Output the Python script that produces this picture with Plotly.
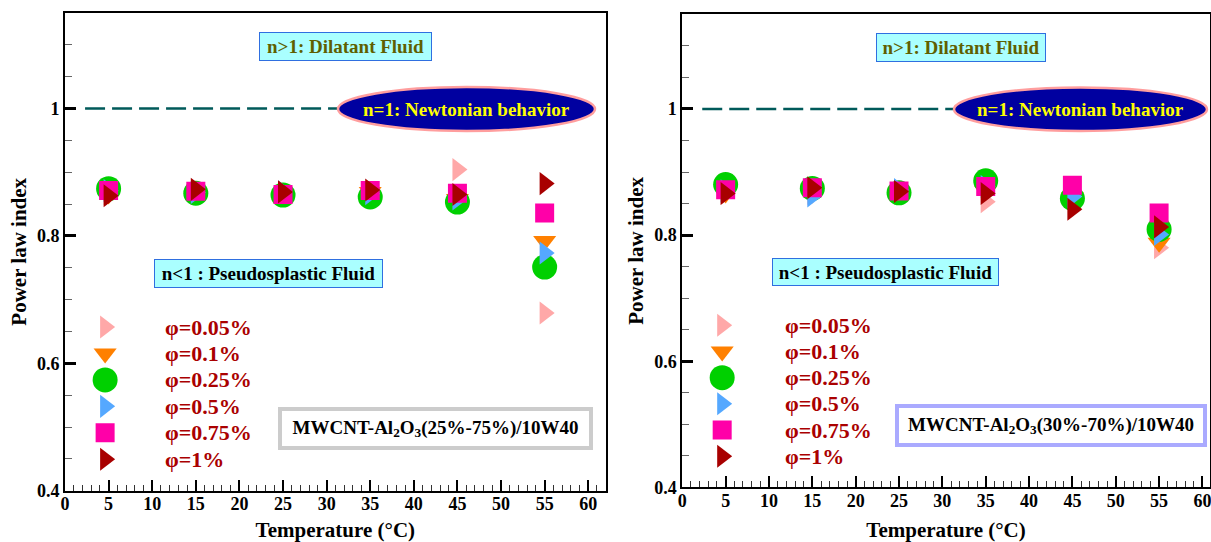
import plotly.graph_objects as go

W, H = 1211, 542

# ---------------- data ----------------
temperature = [5, 15, 25, 35, 45, 55]
series_labels = ["φ=0.05%", "φ=0.1%", "φ=0.25%", "φ=0.5%", "φ=0.75%", "φ=1%"]

# MWCNT-Al2O3 (25%-75%)/10W40
n_25_75 = {
    "φ=0.05%": [0.866, 0.866, 0.865, 0.869, 0.904, 0.679],
    "φ=0.1%":  [0.865, 0.867, 0.865, 0.869, 0.858, 0.792],
    "φ=0.25%": [0.874, 0.867, 0.864, 0.861, 0.853, 0.751],
    "φ=0.5%":  [0.871, 0.868, 0.869, 0.866, 0.858, 0.773],
    "φ=0.75%": [0.871, 0.870, 0.865, 0.871, 0.867, 0.836],
    "φ=1%":    [0.863, 0.873, 0.869, 0.872, 0.865, 0.882],
}
# MWCNT-Al2O3 (30%-70%)/10W40
n_30_70 = {
    "φ=0.05%": [0.866, 0.866, 0.866, 0.853, 0.860, 0.780],
    "φ=0.1%":  [0.866, 0.866, 0.867, 0.870, 0.860, 0.788],
    "φ=0.25%": [0.880, 0.874, 0.867, 0.886, 0.858, 0.809],
    "φ=0.5%":  [0.870, 0.862, 0.872, 0.877, 0.861, 0.801],
    "φ=0.75%": [0.872, 0.875, 0.870, 0.877, 0.879, 0.835],
    "φ=1%":    [0.866, 0.875, 0.869, 0.866, 0.841, 0.813],
}
newtonian_x = [2.3, 32]
newtonian_y = [1.0, 1.0]

x_ticks = [0, 5, 10, 15, 20, 25, 30, 35, 40, 45, 50, 55, 60]
y_ticks = [0.4, 0.6, 0.8, 1.0]
y_ticktext = ["0.4", "0.6", "0.8", "1"]

# ---------------- styles ----------------
styles = {
    "φ=0.05%": dict(symbol="triangle-right", color="#FFA8A8", size=20),
    "φ=0.1%":  dict(symbol="triangle-down", color="#FF8000", size=20),
    "φ=0.25%": dict(symbol="circle", color="#00D000", size=25),
    "φ=0.5%":  dict(symbol="triangle-right", color="#55A8FF", size=20),
    "φ=0.75%": dict(symbol="square", color="#FF00A8", size=19),
    "φ=1%":    dict(symbol="triangle-right", color="#A80000", size=20),
}
FONT = "Liberation Serif, Times New Roman, serif"
LEG_COLOR = "#AA0000"

def px(x):
    return x / W

def py(y):
    return 1 - y / H

fig = go.Figure()

panels = [
    dict(data=n_25_75, xa="x", ya="y", frame=(65, 12.8, 605.7, 490.8), xr=[0, 62],
         title="MWCNT-Al<sub>2</sub>O<sub>3</sub>(25%-75%)/10W40", border="#CCCCCC",
         dil=(259, 32, 432, 61), ell=(338, 87, 595, 131), pse=(154, 259, 383, 288),
         mw=(278, 407, 593, 450), leg_x=4.6, leg_tx=11.2),
    dict(data=n_30_70, xa="x2", ya="y2", frame=(682.3, 14.3, 1209.8, 487.4), xr=[0, 60.85],
         title="MWCNT-Al<sub>2</sub>O<sub>3</sub>(30%-70%)/10W40", border="#AAAAFF",
         dil=(876, 33, 1046, 62), ell=(954, 87.5, 1207, 131), pse=(772, 258, 999, 286),
         mw=(895, 404, 1207, 447), leg_x=4.6, leg_tx=11.6),
]

leg_y0, leg_step = 0.657, 0.0415
shapes, annotations = [], []

for i, p in enumerate(panels):
    # reference line n=1
    fig.add_trace(go.Scatter(x=newtonian_x, y=newtonian_y, mode="lines", xaxis=p["xa"], yaxis=p["ya"],
                             line=dict(color="#005A5A", width=2.5, dash="20px,7px"),
                             showlegend=False, hoverinfo="skip"))
    for k, lab in enumerate(series_labels):
        st = styles[lab]
        fig.add_trace(go.Scatter(x=temperature, y=p["data"][lab], mode="markers", name=lab,
                                 xaxis=p["xa"], yaxis=p["ya"], showlegend=False,
                                 marker=dict(symbol=st["symbol"], color=st["color"], size=st["size"],
                                             line=dict(width=0))))
    # key (legend) drawn inside the plot
    for k, lab in enumerate(series_labels):
        st = styles[lab]
        yk = leg_y0 - k * leg_step
        fig.add_trace(go.Scatter(x=[p["leg_x"]], y=[yk], mode="markers", xaxis=p["xa"], yaxis=p["ya"],
                                 showlegend=False, hoverinfo="skip",
                                 marker=dict(symbol=st["symbol"], color=st["color"], size=st["size"],
                                             line=dict(width=0))))
        annotations.append(dict(x=p["leg_tx"], y=yk, xref=p["xa"], yref=p["ya"], text="<b>" + lab + "</b>",
                                showarrow=False, xanchor="left", yanchor="middle",
                                font=dict(family=FONT, size=22, color=LEG_COLOR)))

    x0, y0, x1, y1 = p["frame"]
    sfx = "" if i == 0 else "2"
    axis_common = dict(showline=True, linewidth=2, linecolor="black", mirror=True, showgrid=False,
                       zeroline=False, ticks="inside", tickcolor="black", automargin=False,
                       ticklabeloverflow="allow",
                       tickfont=dict(family=FONT, size=18, color="black", weight="bold"))
    fig.layout["xaxis" + sfx] = dict(axis_common, domain=[px(x0), min(px(x1), 1)], range=p["xr"],
                                     anchor="y" + sfx, tickvals=x_ticks, ticklen=11, tickwidth=2,
                                     ticklabelstandoff=-4,
                                     minor=dict(dtick=1, tick0=0, ticks="inside", ticklen=6, tickwidth=1.3,
                                                tickcolor="#333333", showgrid=False),
                                     title=dict(text="<b>Temperature (°C)</b>", standoff=16,
                                                font=dict(family=FONT, size=21, color="black")))
    fig.layout["yaxis" + sfx] = dict(axis_common, domain=[py(y1), py(y0)], range=[0.4, 1.15],
                                     anchor="x" + sfx, tickvals=y_ticks, ticktext=y_ticktext, ticklen=11,
                                     tickwidth=2.5,
                                     minor=dict(dtick=0.05, tick0=0, ticks="inside", ticklen=7, tickwidth=1.2,
                                                tickcolor="#666666", showgrid=False),
                                     title=dict(text="<b>Power law index</b>", standoff=5,
                                                font=dict(family=FONT, size=21, color="black")))

    # Dilatant box
    bx0, by0, bx1, by1 = p["dil"]
    annotations.append(dict(x=px((bx0 + bx1) / 2), y=py((by0 + by1) / 2), xref="paper", yref="paper",
                            xanchor="center", yanchor="middle",
                            text="<b>n>1: Dilatant Fluid</b>", showarrow=False,
                            width=bx1 - bx0 - 4, height=by1 - by0 - 4, borderpad=1,
                            bgcolor="#AAFFFF", bordercolor="#2F6FE0", borderwidth=1,
                            font=dict(family=FONT, size=19, color="#5F5F00")))
    # Pseudoplastic box
    bx0, by0, bx1, by1 = p["pse"]
    annotations.append(dict(x=px((bx0 + bx1) / 2), y=py((by0 + by1) / 2), xref="paper", yref="paper",
                            xanchor="center", yanchor="middle",
                            text="<b>n<1 : Pseudosplastic Fluid</b>", showarrow=False,
                            width=bx1 - bx0 - 4, height=by1 - by0 - 4, borderpad=1,
                            bgcolor="#AAFFFF", bordercolor="#2F6FE0", borderwidth=1,
                            font=dict(family=FONT, size=19, color="black")))
    # Newtonian ellipse
    ex0, ey0, ex1, ey1 = p["ell"]
    shapes.append(dict(type="circle", xref="paper", yref="paper", x0=px(ex0), x1=px(ex1),
                       y0=py(ey1), y1=py(ey0), fillcolor="#0000A0", line=dict(color="#FF9E9E", width=2.5),
                       layer="above"))
    annotations.append(dict(x=px((ex0 + ex1) / 2), y=py((ey0 + ey1) / 2), xref="paper", yref="paper",
                            xanchor="center", yanchor="middle",
                            text="<b>n=1: Newtonian behavior</b>", showarrow=False,
                            font=dict(family=FONT, size=19, color="#FFFF00")))
    # Sample box
    mx0, my0, mx1, my1 = p["mw"]
    annotations.append(dict(x=px((mx0 + mx1) / 2), y=py((my0 + my1) / 2), xref="paper", yref="paper",
                            xanchor="center", yanchor="middle",
                            text="<b>" + p["title"] + "</b>", showarrow=False,
                            width=mx1 - mx0 - 10, height=my1 - my0 - 10, borderpad=1,
                            bgcolor="white", bordercolor=p["border"], borderwidth=4,
                            font=dict(family=FONT, size=19, color="black")))

fig.update_layout(width=W, height=H, margin=dict(l=0, r=0, t=0, b=0),
                  paper_bgcolor="white", plot_bgcolor="white", showlegend=False,
                  shapes=shapes, annotations=annotations,
                  font=dict(family=FONT, color="black"))

fig.write_html("out.html")
